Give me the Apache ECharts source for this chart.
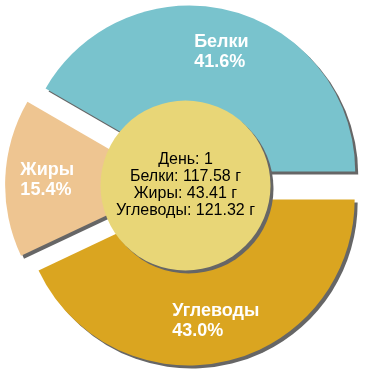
<!DOCTYPE html>
<html>
<head>
<meta charset="utf-8">
<script src="https://cdn.jsdelivr.net/npm/echarts@6/dist/echarts.min.js"></script>
<style>html,body{margin:0;padding:0;background:#fff}#c{width:370px;height:370px}</style>
</head>
<body>
<div id="c"></div>
<script>
const categories = ['Белки', 'Жиры', 'Углеводы'];
const grams = [117.58, 43.41, 121.32];
const colors = ['#79C3CD', '#EEC591', '#DAA520'];
const dayLabel = 'День';
const dayNumber = 1;
const unit = 'г';

const total = grams.reduce((a, b) => a + b, 0);
const sliceData = categories.map((name, i) => ({
  name: name, value: grams[i], selected: true,
  itemStyle: { color: colors[i] }
}));
const ghostData = categories.map((name, i) => ({
  name: name, value: grams[i], selected: true
}));
const centerText = [dayLabel + ': ' + dayNumber]
  .concat(categories.map((n, i) => n + ': ' + grams[i].toFixed(2) + ' ' + unit))
  .join('\n');

const chart = echarts.init(document.getElementById('c'), null, { renderer: 'canvas' });
const center = [185.5, 185.5];
const shadow = { shadowColor: '#666', shadowOffsetX: 3, shadowOffsetY: 3, shadowBlur: 0 };
chart.setOption({
  animation: false,
  series: [
    {
      type: 'pie', center: center, radius: [0, 166],
      startAngle: 0, clockwise: false,
      selectedMode: 'multiple', selectedOffset: 14.4,
      silent: true,
      itemStyle: Object.assign({ borderWidth: 0 }, shadow),
      label: { show: false }, labelLine: { show: false },
      emphasis: { disabled: true }, select: { itemStyle: shadow },
      data: sliceData
    },
    {
      type: 'pie', center: center, radius: [0, 242],
      startAngle: 0, clockwise: false,
      selectedMode: 'multiple', selectedOffset: 14.4,
      silent: true, z: 3,
      itemStyle: { color: 'rgba(0,0,0,0)' },
      labelLine: { show: false },
      emphasis: { disabled: true },
      label: {
        show: true, position: 'inside',
        formatter: p => '{t|' + p.name + '}\n{t|' + (p.value / total * 100).toFixed(1) + '%}',
        rich: { t: { color: '#fff', fontFamily: 'Liberation Sans', fontWeight: 'bold', fontSize: 18, lineHeight: 20, align: 'left' } }
      },
      data: ghostData
    },
    {
      type: 'pie', center: center, radius: [0, 85],
      silent: true, z: 4,
      itemStyle: Object.assign({ color: '#E8D677' }, shadow),
      labelLine: { show: false },
      emphasis: { disabled: true },
      label: {
        show: true, position: 'center', formatter: centerText,
        color: '#000', fontFamily: 'Liberation Sans', fontSize: 16, lineHeight: 17, align: 'center'
      },
      data: [{ name: dayLabel, value: 1 }]
    }
  ]
});
</script>
</body>
</html>
